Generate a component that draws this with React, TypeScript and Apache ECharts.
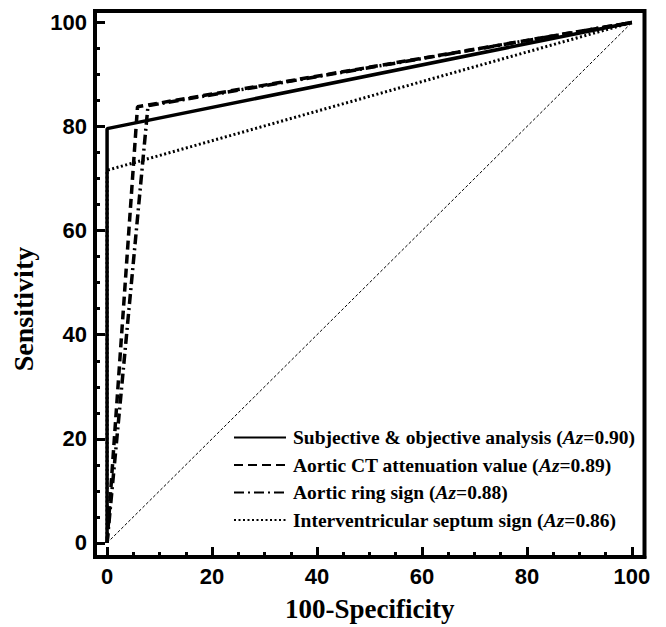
import React, { useEffect, useRef } from 'react';
import * as echarts from 'echarts';

const majorTicks = [0, 20, 40, 60, 80, 100];
const minorTicks = [0, 5, 10, 15, 20, 25, 30, 35, 40, 45, 50, 55, 60, 65, 70, 75, 80, 85, 90, 95, 100];

const seriesNames = [
  'Subjective & objective analysis (Az=0.90)',
  'Aortic CT attenuation value (Az=0.89)',
  'Aortic ring sign (Az=0.88)',
  'Interventricular septum sign (Az=0.86)',
];

const subjective = [[0, 0], [0, 79.6], [100, 100]];
const aorticCT = [[0, 0], [5.8, 83.8], [100, 100]];
const aorticRing = [[0, 0], [7.8, 84], [100, 100]];
const septum = [[0, 0], [0, 71.6], [100, 100]];
const diagonal = [[0, 0], [100, 100]];

const X_MIN = -2.3, X_MAX = 102.4, Y_MIN = -2.7, Y_MAX = 102.2;

export default function App() {
  const ref = useRef<HTMLDivElement>(null);
  useEffect(() => {
    const chart = echarts.init(ref.current!, null, { renderer: 'svg' });
    const serif = 'Liberation Serif';
    const tickLabel = { fontFamily: 'Liberation Sans', fontWeight: 'bold' as const, fontSize: 22, color: '#000' };
    chart.setOption({
      animation: false,
      backgroundColor: '#fff',
      grid: { left: 95, right: 21.5, top: 11, bottom: 66, show: true, borderColor: '#000', borderWidth: 4, backgroundColor: 'transparent' },
      legend: {
        orient: 'vertical', left: 233, top: 427.5, padding: 0,
        itemWidth: 52, itemHeight: 14, itemGap: 7.5,
        itemStyle: { opacity: 0 },
        data: seriesNames,
        formatter: (n: string) => n.replace('Az', '{i|Az}'),
        textStyle: {
          fontFamily: serif, fontWeight: 'bold', fontSize: 19.5, lineHeight: 20, color: '#000', padding: [0, 0, 0, 2],
          rich: { i: { fontFamily: serif, fontWeight: 'bold', fontStyle: 'italic', fontSize: 19.5, lineHeight: 20, color: '#000' } },
        },
      },
      xAxis: [
        {
          type: 'value', min: X_MIN, max: X_MAX, position: 'bottom',
          axisLine: { show: true, onZero: false, lineStyle: { color: '#000', width: 4 } },
          axisTick: { show: true, inside: true, length: 10, customValues: majorTicks, lineStyle: { color: '#000', width: 3 } },
          axisLabel: { show: true, customValues: majorTicks, margin: 8, ...tickLabel },
          splitLine: { show: false },
          name: '100-Specificity', nameLocation: 'middle', nameGap: 38,
          nameTextStyle: { fontFamily: serif, fontWeight: 'bold', fontSize: 27, color: '#000' },
        },
        {
          type: 'value', min: X_MIN, max: X_MAX, position: 'bottom',
          axisLine: { show: false, onZero: false },
          axisTick: { show: true, inside: true, length: 5, customValues: minorTicks, lineStyle: { color: '#000', width: 3 } },
          axisLabel: { show: false },
          splitLine: { show: false },
        },
      ],
      yAxis: [
        {
          type: 'value', min: Y_MIN, max: Y_MAX, position: 'left',
          axisLine: { show: true, onZero: false, lineStyle: { color: '#000', width: 4 } },
          axisTick: { show: true, inside: true, length: 10, customValues: majorTicks, lineStyle: { color: '#000', width: 3 } },
          axisLabel: { show: true, customValues: majorTicks, margin: 8, ...tickLabel },
          splitLine: { show: false },
          name: 'Sensitivity', nameLocation: 'middle', nameGap: 58, nameRotate: 90,
          nameTextStyle: { fontFamily: serif, fontWeight: 'bold', fontSize: 28, color: '#000', padding: [0, 50, 0, 0] },
        },
        {
          type: 'value', min: Y_MIN, max: Y_MAX, position: 'left',
          axisLine: { show: false, onZero: false },
          axisTick: { show: true, inside: true, length: 5, customValues: minorTicks, lineStyle: { color: '#000', width: 3 } },
          axisLabel: { show: false },
          splitLine: { show: false },
        },
      ],
      series: [
        { name: 'diag', type: 'line', symbol: 'none', data: diagonal, itemStyle: { color: '#000' }, lineStyle: { color: '#000', width: 1, type: [3, 2] }, z: 1 },
        { name: seriesNames[0], type: 'line', symbol: 'none', data: subjective, itemStyle: { color: '#000' }, lineStyle: { color: '#000', width: 3.5, type: 'solid' } },
        { name: seriesNames[1], type: 'line', symbol: 'none', data: aorticCT, itemStyle: { color: '#000' }, lineStyle: { color: '#000', width: 3.5, type: [9, 5] } },
        { name: seriesNames[2], type: 'line', symbol: 'none', data: aorticRing, itemStyle: { color: '#000' }, lineStyle: { color: '#000', width: 3.5, type: [10, 4, 2, 4] } },
        { name: seriesNames[3], type: 'line', symbol: 'none', data: septum, itemStyle: { color: '#000' }, lineStyle: { color: '#000', width: 3, type: [2, 2.5] } },
      ],
    });
    return () => chart.dispose();
  }, []);
  return <div ref={ref} style={{ position: 'fixed', left: 0, top: 0, width: 666, height: 627, background: '#fff' }} />;
}
